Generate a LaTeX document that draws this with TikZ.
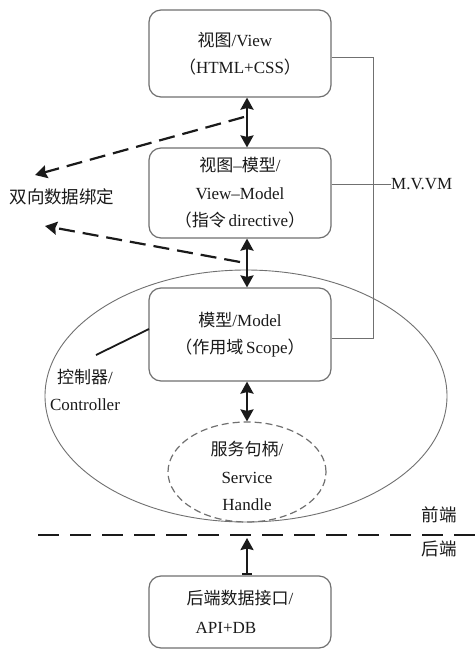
\documentclass[tikz,border=0pt]{standalone}
\usepackage{fontspec}
\setmainfont{Liberation Serif}
\newfontfamily\cjk{Noto Sans CJK SC}
\usetikzlibrary{arrows.meta,shapes.geometric,calc}
\definecolor{edge}{HTML}{707070}
\definecolor{ink}{HTML}{1A1A1A}
\tikzset{
  box/.style={draw=edge, line width=1.2pt, rounded corners=12pt, minimum width=182pt, align=center, text=ink, inner sep=0pt},
  dbl/.style={line width=2.2pt, ink, {Stealth[length=12pt,width=13pt,inset=1.5pt]}-{Stealth[length=12pt,width=13pt,inset=1.5pt]}},
  sgl/.style={line width=2.2pt, ink, {Bar[width=10pt]}-{Stealth[length=12pt,width=13pt,inset=1.5pt]}},
  bind/.style={line width=2.2pt, ink, dash pattern=on 16pt off 8pt, -{Stealth[length=12pt,width=13pt,inset=1.5pt]}},
  thinline/.style={draw=edge, line width=1pt},
  lbl/.style={text=ink, align=center, inner sep=0pt},
  cjklbl/.style={lbl, font=\cjk\fontsize{17.5pt}{17.5pt}\selectfont},
}
\begin{document}
\begin{tikzpicture}[x=1pt,y=-1pt, font=\fontsize{17pt}{27.5pt}\selectfont]
\useasboundingbox (0,0) rectangle (476,649);
\fill[white] (0,0) rectangle (476,649);
% boxes
\node[box, minimum height=87pt] (b1) at (240,53.5) {\hspace*{-10pt}{\cjk 视图}/View\\{\cjk （}HTML+CSS{\cjk ）}};
\node[box, minimum height=90pt] (b2) at (240,193) {{\cjk 视图}--{\cjk 模型}/\\View--Model\\{\cjk （指令}\,directive{\cjk ）}};
\node[box, minimum height=93pt] (b3) at (240,334.5) {{\cjk 模型}/Model\\{\cjk （作用域}\,Scope{\cjk ）}};
\node[box, minimum height=72pt] (b4) at (240,612) {{\cjk 后端数据接口}/\\[1pt]\hspace*{-28pt}API+DB};
% ellipses
\node[draw=edge, line width=0.9pt, ellipse, minimum width=402pt, minimum height=252pt] (big) at (246,396) {};
\node[draw=edge, line width=1.2pt, dash pattern=on 7pt off 4pt, ellipse, minimum width=158pt, minimum height=100pt] (se) at (247,472) {};
\node[lbl] (setext) at (247,476) {{\cjk 服务句柄}/\\Service\\Handle};
% axis for arrows
\coordinate (ax) at (247,0);
\draw[dbl] (b1.south -| ax) -- (b2.north -| ax);
\draw[dbl] (b2.south -| ax) -- (b3.north -| ax);
\draw[dbl] (b3.south -| ax) -- (se.north);
% divider
\coordinate (dvl) at (38,535);
\coordinate (dvr) at (476,535);
\draw[line width=2.6pt, ink, dash pattern=on 21pt off 11pt] (dvl) -- (dvr);
\coordinate (dtop) at (247,538);
\draw[sgl] (b4.north -| ax) -- (dtop);
\node[cjklbl] (fe) at (439,515) {前端};
\node[cjklbl] (be) at (439,549) {后端};
% two-way binding
\node[cjklbl] (bindlbl) at (62,197) {双向数据绑定};
\coordinate (p1) at (244,117);
\coordinate (t1) at (35,175);
\coordinate (p2) at (240,262);
\coordinate (t2) at (45,226);
\draw[bind] (p1) -- (t1);
\draw[bind] (p2) -- (t2);
% MVVM
\coordinate (bt) at (373,57);
\coordinate (bb) at (373,338);
\draw[thinline] (b1.east |- bt) -- (bt) -- (bb) -- (b3.east |- bb);
\node[lbl, anchor=west] (mv) at (391,184) {M.V.VM};
\draw[thinline] (b2.east |- mv.west) -- (mv.west);
% controller
\coordinate (c1) at (149,329);
\coordinate (c2) at (96,355);
\draw[line width=1.8pt, ink] (c1) -- (c2);
\node[lbl] (ctl) at (85,390) {{\cjk 控制器}/\\Controller};
\end{tikzpicture}
\end{document}
